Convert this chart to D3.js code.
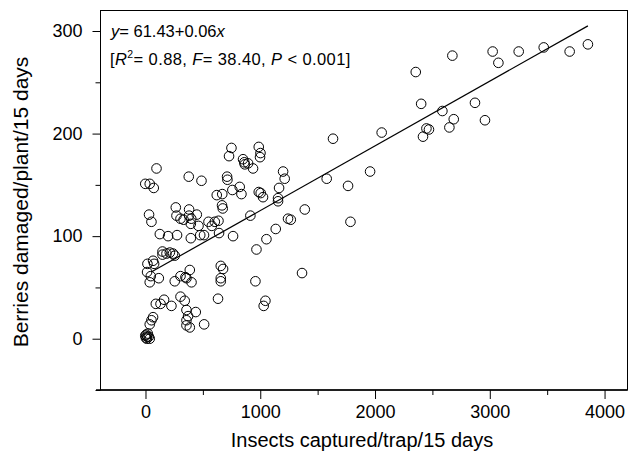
<!DOCTYPE html>
<html><head><meta charset="utf-8">
<script src="https://cdn.jsdelivr.net/npm/d3@7"></script>
<style>body{margin:0;background:#fff}svg{display:block}text{font-family:"Liberation Sans",Arial,sans-serif;fill:#000}</style>
</head><body>
<script>
const insects = [2674,3025,3075,3252,3470,3696,3855,2355,2402,2587,2871,2686,2648,2958,2448,2470,2418,
1634,2058,1957,1579,1765,1786,1388,1266,1364,1199,1213,1164,1155,1155,1135,1054,967,1242,914,1045,1030,958,632,
749,987,1002,998,728,850,861,894,865,937,96,-2,37,72,377,488,711,714,821,757,836,621,669,987,1004,1024,
264,380,667,673,31,52,125,197,275,395,270,305,332,380,399,395,447,462,549,578,604,636,477,510,641,763,
148,148,183,212,240,255,66,75,17,14,46,37,116,255,305,348,386,357,401,656,676,656,656,
90,131,162,226,305,342,357,438,371,357,357,386,511,66,52,37,3,16,29,-2,20,11,37,7];
const berries = [276,280,269,280,284,280,287,260,229,222,230,214,206,213,205,204,197,
195,201,163,156,149,114,126,116,64,163,156,147,137,134,107,97,87,117,120,37,32,56,39,
186,187,181,177,178,175,172,171,170,166,166,151,151,147,158,154,158,155,148,145,141,140,141,143,142,138,
128,126,130,127,121,114,102,100,101,98,120,117,116,120,117,112,121,110,114,110,114,115,101,101,103,100,
85,82,83,84,83,81,76,73,73,65,61,55,59,56,61,60,67,59,55,71,68,59,56,
34,34,38,32,41,37,28,26,22,18,13,11,14,21,18,14,1,2,2,3,5,0,0,4];
const fitX = [50, 3855];
const fitY = [65, 305];
const xTicks = [0,1000,2000,3000,4000];
const xMinor = [500,1500,2500,3500];
const yTicks = [0,100,200,300];
const yMinor = [-50,50,150,250];

const W=629,H=465;
const svg=d3.select("body").append("svg").attr("width",W).attr("height",H);
const x=d3.scaleLinear().domain([-392,4200]).range([100.5,627.5]);
const y=d3.scaleLinear().domain([-50,320]).range([390,10.5]);

// frame
svg.append("rect").attr("x",100.5).attr("y",10.5).attr("width",527).attr("height",379.5)
  .attr("fill","none").attr("stroke","#000").attr("stroke-width",1);
svg.append("line").attr("x1",96).attr("x2",627.5).attr("y1",390).attr("y2",390).attr("stroke","#000").attr("stroke-width",1.3);

// x axis
const gx=svg.append("g").attr("transform","translate(0,390)");
gx.call(d3.axisBottom(x).tickValues(xTicks).tickSize(9).tickSizeOuter(0).tickPadding(6).tickFormat(d3.format("d")));
gx.select(".domain").remove();
gx.selectAll(".tick line").attr("stroke","#000");
gx.selectAll("text").attr("font-size",18).attr("font-family","Liberation Sans, Arial, sans-serif");
const gxm=svg.append("g").attr("transform","translate(0,390)");
gxm.call(d3.axisBottom(x).tickValues(xMinor).tickSize(5).tickSizeOuter(0).tickFormat(""));
gxm.select(".domain").remove();

// y axis
const gy=svg.append("g").attr("transform","translate(100.5,0)");
gy.call(d3.axisLeft(y).tickValues(yTicks).tickSize(8).tickSizeOuter(0).tickPadding(10).tickFormat(d3.format("d")));
gy.select(".domain").remove();
gy.selectAll("text").attr("font-size",18).attr("font-family","Liberation Sans, Arial, sans-serif");
const gym=svg.append("g").attr("transform","translate(100.5,0)");
gym.call(d3.axisLeft(y).tickValues(yMinor).tickSize(5).tickSizeOuter(0).tickFormat(""));
gym.select(".domain").remove();

// points
const pts=insects.map((v,i)=>[v,berries[i]]);
svg.append("g").selectAll("circle").data(pts).join("circle")
  .attr("cx",d=>x(d[0])).attr("cy",d=>y(d[1])).attr("r",4.8)
  .attr("fill","none").attr("stroke","#000").attr("stroke-width",1);

// fit line
svg.append("line").attr("x1",x(fitX[0])).attr("y1",y(fitY[0])).attr("x2",x(fitX[1])).attr("y2",y(fitY[1]))
  .attr("stroke","#000").attr("stroke-width",1.2);

// equation text
const t1=svg.append("text").attr("x",111).attr("y",37).attr("font-size",16.5);
t1.append("tspan").attr("font-style","italic").text("y");
t1.append("tspan").text("= 61.43+0.06");
t1.append("tspan").attr("font-style","italic").text("x");
const t2=svg.append("text").attr("x",110).attr("y",65).attr("font-size",16.5).attr("letter-spacing",0.4);
t2.append("tspan").text("[");
t2.append("tspan").attr("font-style","italic").text("R");
t2.append("tspan").attr("font-size",10.5).attr("dy",-7).text("2");
t2.append("tspan").attr("dy",7).text("= 0.88, ");
t2.append("tspan").attr("font-style","italic").text("F");
t2.append("tspan").text("= 38.40, ");
t2.append("tspan").attr("font-style","italic").text("P");
t2.append("tspan").text(" < 0.001]");

// axis titles
svg.append("text").attr("x",362).attr("y",447).attr("text-anchor","middle").attr("font-size",20)
  .text("Insects captured/trap/15 days");
svg.append("text").attr("transform","translate(28,202) rotate(-90)").attr("text-anchor","middle").attr("font-size",21)
  .text("Berries damaged/plant/15 days");
</script>
</body></html>
